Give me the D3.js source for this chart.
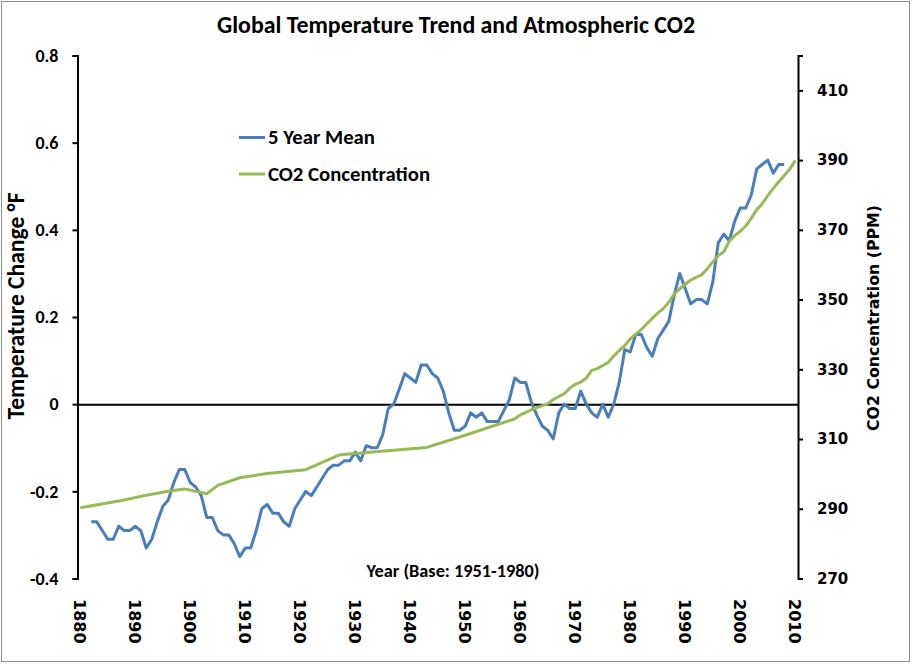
<!DOCTYPE html>
<html><head><meta charset="utf-8">
<script src="https://cdn.jsdelivr.net/npm/d3@7"></script>
<style>
html,body{margin:0;padding:0;background:#fff;}
svg{display:block;}
</style>
</head><body>
<svg id="chart" width="913" height="664"></svg>
<script>
// ---- data ----
const meanYears = [1882,1883,1884,1885,1886,1887,1888,1889,1890,1891,1892,1893,1894,1895,1896,1897,1898,1899,1900,1901,1902,1903,1904,1905,1906,1907,1908,1909,1910,1911,1912,1913,1914,1915,1916,1917,1918,1919,1920,1921,1922,1923,1924,1925,1926,1927,1928,1929,1930,1931,1932,1933,1934,1935,1936,1937,1938,1939,1940,1941,1942,1943,1944,1945,1946,1947,1948,1949,1950,1951,1952,1953,1954,1955,1956,1957,1958,1959,1960,1961,1962,1963,1964,1965,1966,1967,1968,1969,1970,1971,1972,1973,1974,1975,1976,1977,1978,1979,1980,1981,1982,1983,1984,1985,1986,1987,1988,1989,1990,1991,1992,1993,1994,1995,1996,1997,1998,1999,2000,2001,2002,2003,2004,2005,2006,2007,2008];
const meanValues = [-0.27,-0.27,-0.29,-0.31,-0.31,-0.28,-0.29,-0.29,-0.28,-0.29,-0.33,-0.31,-0.27,-0.235,-0.22,-0.18,-0.15,-0.15,-0.18,-0.19,-0.21,-0.26,-0.26,-0.29,-0.30,-0.30,-0.32,-0.35,-0.33,-0.33,-0.29,-0.24,-0.23,-0.25,-0.25,-0.27,-0.28,-0.24,-0.22,-0.20,-0.21,-0.19,-0.17,-0.15,-0.14,-0.14,-0.13,-0.13,-0.11,-0.13,-0.095,-0.10,-0.10,-0.07,-0.01,0.00,0.035,0.07,0.06,0.05,0.09,0.09,0.07,0.06,0.03,-0.02,-0.06,-0.06,-0.05,-0.02,-0.03,-0.02,-0.04,-0.04,-0.04,-0.015,0.01,0.06,0.05,0.05,0.005,-0.025,-0.05,-0.06,-0.08,-0.02,0.00,-0.01,-0.01,0.03,0.00,-0.02,-0.03,0.00,-0.03,0.00,0.05,0.125,0.12,0.16,0.16,0.13,0.11,0.15,0.17,0.19,0.25,0.30,0.265,0.23,0.24,0.24,0.23,0.28,0.37,0.39,0.375,0.42,0.45,0.45,0.48,0.54,0.55,0.56,0.53,0.55,0.55];

const co2Years = [1880,1887,1892,1896,1899,1903,1905,1909,1914,1921,1927,1931,1943,1950,1959,1960,1961,1962,1963,1964,1965,1966,1967,1968,1969,1970,1971,1972,1973,1974,1975,1976,1977,1978,1979,1980,1981,1982,1983,1984,1985,1986,1987,1988,1989,1990,1991,1992,1993,1994,1995,1996,1997,1998,1999,2000,2001,2002,2003,2004,2005,2006,2007,2008,2009,2010];
const co2Values = [290.3,292.2,293.9,295.0,295.7,294.3,296.7,298.9,300.1,301.2,305.4,306.0,307.6,311.1,315.8,316.9,317.6,318.4,319.0,319.6,320.1,321.3,322.2,323.0,324.6,325.7,326.3,327.5,329.7,330.2,331.1,332.0,333.8,335.4,336.8,338.7,340.1,341.4,343.0,344.6,346.1,347.4,349.2,351.6,353.1,354.4,355.6,356.4,357.1,358.8,360.8,362.6,363.7,366.7,368.4,369.6,371.1,373.3,375.8,377.5,379.8,381.9,383.8,385.6,387.4,389.9];

const yearTicks = [1880,1890,1900,1910,1920,1930,1940,1950,1960,1970,1980,1990,2000,2010];
const tempTicks = [-0.4,-0.2,0,0.2,0.4,0.6,0.8];
const tempTickLabels = ["-0.4","-0.2","0","0.2","0.4","0.6","0.8"];
const co2Ticks = [270,290,310,330,350,370,390,410];

const titleText = "Global Temperature Trend and Atmospheric CO2";
const leftAxisTitle = "Temperature Change °F";
const rightAxisTitle = "CO2 Concentration  (PPM)";
const xAxisTitle = "Year (Base: 1951-1980)";
const seriesNames = ["5 Year Mean", "CO2 Concentration"];
const seriesColors = ["#4a7ebb", "#98b954"];

// ---- layout ----
const svg = d3.select("#chart");
const L = 77.5, R = 798, T = 55.5, B = 578.5;
const calibri = "Carlito, 'Liberation Sans Narrow', Lato, 'Open Sans', sans-serif";
const verdana = "'DejaVu Sans', Verdana, sans-serif";

const x = d3.scaleLinear().domain([1879.5, 2010.5]).range([L, R]);
const yT = d3.scaleLinear().domain([-0.4, 0.8]).range([B, T]);
const yC = d3.scaleLinear().domain([270, 420]).range([B, T]);

function fit(sel, target) {
  const n = sel.node();
  const fs = parseFloat(sel.attr("font-size"));
  const w = n.getComputedTextLength();
  if (w > 0) sel.attr("font-size", (fs * target / w).toFixed(2));
  return sel;
}

// border
svg.append("rect").attr("x", 1.5).attr("y", 1.5).attr("width", 908).attr("height", 660)
  .attr("fill", "#fff").attr("stroke", "#8c8c8c").attr("stroke-width", 1);

// title
fit(svg.append("text").attr("x", 456).attr("y", 33).attr("text-anchor", "middle")
  .attr("font-family", calibri).attr("font-weight", "bold").attr("font-size", 20)
  .attr("fill", "#000").text(titleText), 478);

// left axis
const leftAxis = d3.axisLeft(yT).tickValues(tempTicks)
  .tickFormat((d, i) => tempTickLabels[i]).tickSize(5).tickPadding(14);
const gl = svg.append("g").attr("transform", `translate(${L},0)`).call(leftAxis);
gl.select(".domain").attr("stroke", "#000").attr("stroke-width", 2);
gl.selectAll(".tick line").attr("stroke", "#000").attr("stroke-width", 2);
gl.selectAll(".tick text").attr("font-family", calibri).attr("font-weight", "bold")
  .attr("font-size", 18).attr("fill", "#000");

// right axis
const rightAxis = d3.axisRight(yC).tickValues(co2Ticks).tickSize(5).tickPadding(14);
const gr = svg.append("g").attr("transform", `translate(${R},0)`).call(rightAxis);
gr.select(".domain").attr("stroke", "#000").attr("stroke-width", 2);
gr.selectAll(".tick line").attr("stroke", "#000").attr("stroke-width", 2);
gr.selectAll(".tick text").attr("font-family", verdana).attr("font-weight", "bold")
  .attr("font-size", 15).attr("fill", "#000");

// zero line (horizontal axis)
const xAxis = d3.axisBottom(x).tickValues([]).tickSize(0);
const gx = svg.append("g").attr("transform", `translate(0,${yT(0)})`).call(xAxis);
gx.select(".domain").attr("stroke", "#000").attr("stroke-width", 2);

// year labels (rotated, low position)
svg.append("g").selectAll("text").data(yearTicks).join("text")
  .attr("transform", d => `translate(${x(d)},599) rotate(90)`)
  .attr("dy", "0.36em")
  .attr("font-family", verdana).attr("font-weight", "bold").attr("font-size", 16)
  .attr("fill", "#000").text(d => d);

// axis titles
fit(svg.append("text").attr("transform", "translate(24,306) rotate(-90)")
  .attr("text-anchor", "middle").attr("font-family", calibri).attr("font-weight", "bold")
  .attr("font-size", 18).attr("fill", "#000").text(leftAxisTitle), 227);
fit(svg.append("text").attr("transform", "translate(879,318) rotate(-90)")
  .attr("text-anchor", "middle").attr("font-family", verdana).attr("font-weight", "bold")
  .attr("font-size", 15).attr("fill", "#000").text(rightAxisTitle), 226);
fit(svg.append("text").attr("x", 453).attr("y", 577).attr("text-anchor", "middle")
  .attr("font-family", calibri).attr("font-weight", "bold").attr("font-size", 17)
  .attr("fill", "#000").text(xAxisTitle), 173);

// lines
const lineT = d3.line().x((d, i) => x(meanYears[i])).y(d => yT(d));
svg.append("path").datum(meanValues).attr("d", lineT).attr("fill", "none")
  .attr("stroke", seriesColors[0]).attr("stroke-width", 3).attr("stroke-linejoin", "round");

const lineC = d3.line().x((d, i) => x(co2Years[i])).y(d => yC(d));
svg.append("path").datum(co2Values).attr("d", lineC).attr("fill", "none")
  .attr("stroke", seriesColors[1]).attr("stroke-width", 3).attr("stroke-linejoin", "round");

// legend
const legY = [137.5, 174];
const legTarget = [107, 162];
seriesNames.forEach((name, i) => {
  svg.append("line").attr("x1", 239).attr("x2", 265).attr("y1", legY[i]).attr("y2", legY[i])
    .attr("stroke", seriesColors[i]).attr("stroke-width", 3);
  fit(svg.append("text").attr("x", 268).attr("y", legY[i] + 6.5)
    .attr("font-family", calibri).attr("font-weight", "bold").attr("font-size", 18)
    .attr("fill", "#000").text(name), legTarget[i]);
});
</script>
</body></html>
